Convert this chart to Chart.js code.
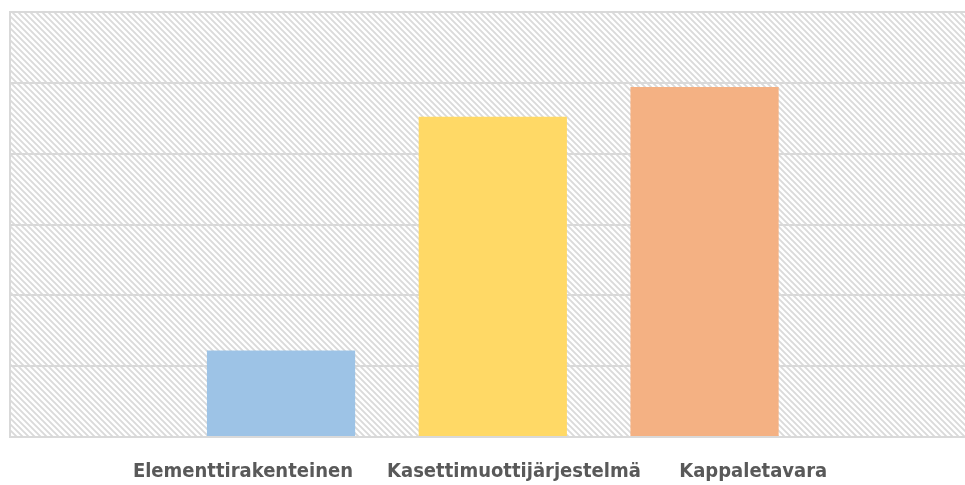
<!DOCTYPE html>
<html>
<head>
<meta charset="utf-8">
<script src="https://cdn.jsdelivr.net/npm/chart.js@4.4.1/dist/chart.umd.min.js"></script>
<style>
  html, body { margin: 0; padding: 0; background: #fff; }
  #wrap { width: 965px; height: 485px; }
</style>
</head>
<body>
<div id="wrap"><canvas id="barChart"></canvas></div>
<script>
// data
const categories = ['Elementtirakenteinen', 'Kasettimuottijärjestelmä', 'Kappaletavara'];
const values = [12.2, 45.2, 49.4];
const barColors = ['#9dc3e6', '#ffd966', '#f4b183'];

// where the bars and the (offset) labels sit on the x scale
const barX = [1, 2, 3];
const labelX = [0.82, 2.1, 3.23];

// diagonal hatch for the plot background
function makeHatch() {
    const s = 6;
    const c = document.createElement('canvas');
    c.width = s; c.height = s;
    const g = c.getContext('2d');
    g.fillStyle = '#ffffff';
    g.fillRect(0, 0, s, s);
    g.strokeStyle = '#dadada';
    g.lineWidth = 1.9;
    g.beginPath();
    g.moveTo(0, 0); g.lineTo(s, s);
    g.moveTo(-s, 0); g.lineTo(s, 2 * s);
    g.moveTo(0, -s); g.lineTo(2 * s, s);
    g.stroke();
    return g.createPattern(c, 'repeat');
}

const hatchBg = {
    id: 'hatchBg',
    beforeDraw(chart) {
        const a = chart.chartArea;
        const ctx = chart.ctx;
        ctx.save();
        ctx.fillStyle = makeHatch();
        ctx.fillRect(a.left, a.top, a.right - a.left, a.bottom - a.top);
        ctx.restore();
    }
};

const ctx = document.getElementById('barChart').getContext('2d');

const barChart = new Chart(ctx, {
    type: 'bar',
    data: {
        datasets: [{
            data: values.map((v, i) => ({ x: barX[i], y: v })),
            backgroundColor: barColors,
            borderWidth: 0,
            barPercentage: 0.7,
            categoryPercentage: 1
        }]
    },
    options: {
        responsive: true,
        maintainAspectRatio: false,
        animation: false,
        layout: { padding: { left: 10, top: 12, right: 0, bottom: 0 } },
        plugins: {
            legend: { display: false },
            tooltip: { enabled: false }
        },
        scales: {
            x: {
                type: 'linear',
                offset: false,
                min: -0.28,
                max: 4.23,
                grid: { display: false, drawTicks: false, offset: false },
                border: { display: false },
                afterBuildTicks: (scale) => {
                    scale.ticks = labelX.map(v => ({ value: v }));
                },
                afterFit: (scale) => {
                    scale.height = 48;
                },
                ticks: {
                    autoSkip: false,
                    maxRotation: 0,
                    padding: 23,
                    color: '#595959',
                    font: { family: 'DejaVu Sans Condensed', size: 20, weight: 'bold' },
                    callback: (v, i) => categories[i]
                }
            },
            y: {
                min: 0,
                max: 60,
                ticks: { stepSize: 10, display: false },
                grid: { color: '#d9d9d9', lineWidth: 2, drawTicks: false },
                border: { display: true, color: '#d9d9d9', width: 2 }
            }
        }
    },
    plugins: [hatchBg]
});
</script>
</body>
</html>
